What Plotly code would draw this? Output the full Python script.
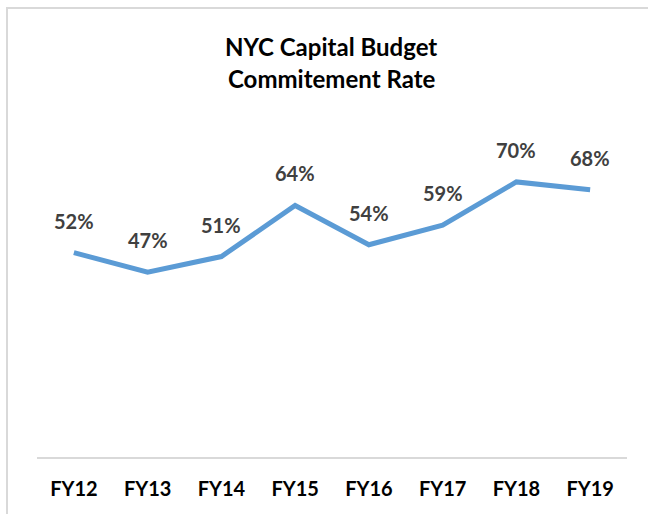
import plotly.graph_objects as go

categories = ["FY12", "FY13", "FY14", "FY15", "FY16", "FY17", "FY18", "FY19"]
rates = [52, 47, 51, 64, 54, 59, 70, 68]
labels = [f"{v}%" for v in rates]

FONT = "Lato"
fig = go.Figure()
fig.add_trace(go.Scatter(
    x=categories, y=rates, mode="lines",
    line=dict(color="#5B9BD5", width=5, shape="linear"),
    hoverinfo="skip", showlegend=False,
))
for c, v, t in zip(categories, rates, labels):
    fig.add_annotation(x=c, y=v, text=f"<b>{t}</b>", showarrow=False,
                       yshift=32, yanchor="middle",
                       font=dict(family=FONT, size=20, color="#404040"))

fig.add_annotation(xref="paper", yref="paper", x=(331 - 37) / 590, y=(457 - 47) / 393,
                   xanchor="center", yanchor="middle",
                   text="<b>NYC Capital Budget</b>", showarrow=False,
                   font=dict(family=FONT, size=24, color="#000000"))
fig.add_annotation(xref="paper", yref="paper", x=(331 - 37) / 590, y=(457 - 79) / 393,
                   xanchor="center", yanchor="middle",
                   text="<b>Commitement Rate</b>", showarrow=False,
                   font=dict(family=FONT, size=24, color="#000000"))

fig.add_shape(type="rect", xref="paper", yref="paper",
              x0=(7 - 37) / 590, x1=(660 - 37) / 590,
              y0=(457 - 530) / 393, y1=(457 - 8) / 393,
              line=dict(color="#D9D9D9", width=2), fillcolor="rgba(0,0,0,0)", layer="below")

fig.update_layout(
    width=648, height=514,
    margin=dict(l=37, r=21, t=64, b=57),
    paper_bgcolor="white", plot_bgcolor="white",
    showlegend=False,
    xaxis=dict(type="category", showgrid=False, zeroline=False,
               showline=True, linecolor="#D9D9D9", linewidth=2,
               ticks="", ticklabelstandoff=13,
               tickfont=dict(family=FONT, size=20, color="#000000", weight="bold"),
               range=[-0.5, 7.5]),
    yaxis=dict(range=[0, 100], visible=False, showgrid=False, zeroline=False),
)

fig.write_html("out.html", config={"displayModeBar": False},
               post_script="document.body.style.margin='0';document.body.style.overflow='hidden';")
